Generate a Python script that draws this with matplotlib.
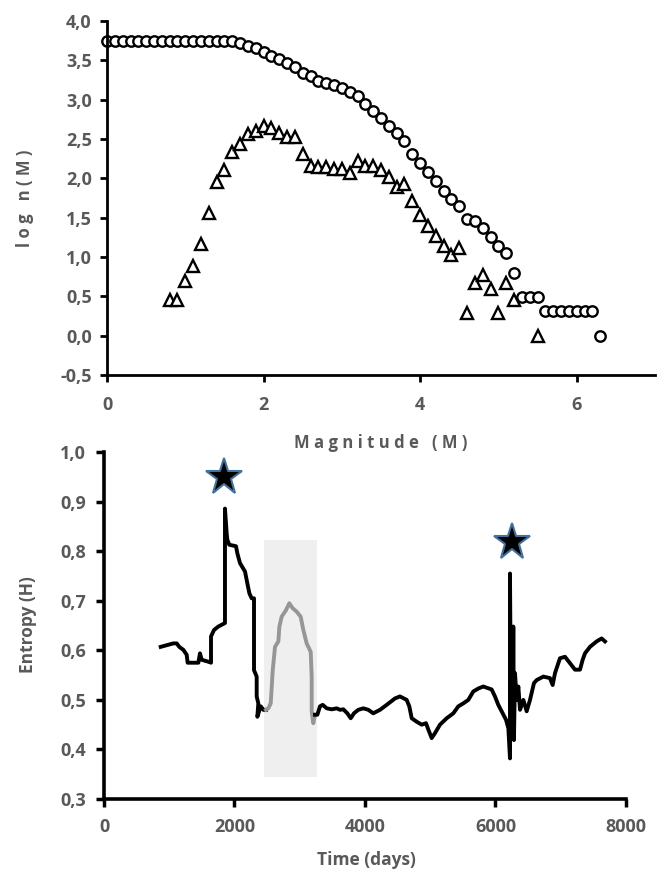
import matplotlib
matplotlib.use("Agg")
import matplotlib.pyplot as plt

plt.rcParams["font.family"] = ["Open Sans", "DejaVu Sans"]
plt.rcParams["font.weight"] = "bold"

GREY_TXT = "#595959"

# ---- top panel: log n(M) vs magnitude ----
mag_circ = [0.0, 0.1, 0.2, 0.3, 0.4, 0.5, 0.6, 0.7, 0.8, 0.9, 1.0, 1.1, 1.2, 1.3, 1.4, 1.5, 1.6,
            1.7, 1.8, 1.9, 2.0, 2.1, 2.2, 2.3, 2.4, 2.5, 2.6, 2.7, 2.8, 2.9, 3.0, 3.1, 3.2,
            3.3, 3.4, 3.5, 3.6, 3.7, 3.8, 3.9, 4.0, 4.1, 4.2, 4.3, 4.4, 4.5, 4.6, 4.7, 4.8,
            4.9, 5.0, 5.1, 5.2, 5.3, 5.4, 5.5, 5.6, 5.7, 5.8, 5.9, 6.0, 6.1, 6.2, 6.3]
logn_cum = [3.75, 3.75, 3.75, 3.75, 3.75, 3.75, 3.75, 3.75, 3.75, 3.75, 3.75, 3.75, 3.75, 3.75,
            3.75, 3.75, 3.75, 3.72, 3.68, 3.65, 3.61, 3.55, 3.51, 3.47, 3.41, 3.34, 3.30, 3.24,
            3.21, 3.18, 3.15, 3.10, 3.04, 2.94, 2.86, 2.77, 2.66, 2.58, 2.48, 2.31, 2.20, 2.08,
            1.96, 1.84, 1.74, 1.65, 1.48, 1.46, 1.37, 1.26, 1.14, 1.05, 0.80, 0.49, 0.49, 0.49,
            0.31, 0.31, 0.31, 0.31, 0.31, 0.31, 0.31, 0.0]

mag_tri = [0.8, 0.9, 1.0, 1.1, 1.2, 1.3, 1.4, 1.5, 1.6, 1.7, 1.8, 1.9, 2.0, 2.1, 2.2, 2.3,
           2.4, 2.5, 2.6, 2.7, 2.8, 2.9, 3.0, 3.1, 3.2, 3.3, 3.4, 3.5, 3.6, 3.7, 3.8, 3.9,
           4.0, 4.1, 4.2, 4.3, 4.4, 4.5, 4.6, 4.7, 4.8, 4.9, 5.0, 5.1, 5.2, 5.5]
logn_inc = [0.45, 0.45, 0.69, 0.88, 1.17, 1.56, 1.95, 2.11, 2.34, 2.44, 2.56, 2.60, 2.67,
            2.64, 2.57, 2.52, 2.52, 2.31, 2.16, 2.14, 2.14, 2.12, 2.12, 2.07, 2.22, 2.15,
            2.15, 2.11, 2.02, 1.89, 1.93, 1.71, 1.53, 1.39, 1.27, 1.14, 1.03, 1.11, 0.29,
            0.67, 0.77, 0.59, 0.29, 0.67, 0.45, 0.0]

top_yticks = [-0.5, 0.0, 0.5, 1.0, 1.5, 2.0, 2.5, 3.0, 3.5, 4.0]
top_ylabels = ["-0,5", "0,0", "0,5", "1,0", "1,5", "2,0", "2,5", "3,0", "3,5", "4,0"]
top_xticks = [0, 2, 4, 6]

# ---- bottom panel: entropy vs time ----
t_black1 = [869, 1062, 1114, 1154, 1216, 1267, 1282, 1446, 1471, 1497, 1599, 1640, 1640,
            1686, 1752, 1854, 1854, 1880, 1890, 1920, 2023, 2043, 2084, 2161, 2197, 2228,
            2263, 2299, 2299, 2340, 2340, 2365, 2350, 2402, 2442, 2483]
h_black1 = [0.607, 0.614, 0.614, 0.607, 0.601, 0.591, 0.575, 0.575, 0.594, 0.581, 0.577,
            0.575, 0.628, 0.641, 0.648, 0.655, 0.886, 0.836, 0.823, 0.813, 0.810, 0.796,
            0.776, 0.759, 0.735, 0.715, 0.705, 0.705, 0.560, 0.547, 0.507, 0.493, 0.466,
            0.487, 0.480, 0.480]

t_grey = [2483, 2518, 2555, 2586, 2621, 2672, 2688, 2723, 2789, 2840, 2891, 2953, 3014,
          3055, 3106, 3168, 3183, 3183, 3208, 3234]
h_grey = [0.480, 0.483, 0.493, 0.560, 0.607, 0.618, 0.648, 0.668, 0.681, 0.695, 0.685,
          0.678, 0.668, 0.641, 0.614, 0.597, 0.547, 0.476, 0.453, 0.470]

t_black2 = [3234, 3270, 3310, 3352, 3413, 3490, 3566, 3617, 3668, 3729, 3781, 3831, 3897,
            3974, 4051, 4127, 4230, 4332, 4460, 4536, 4639, 4679, 4716, 4792, 4869, 4935,
            4971, 5022, 5073, 5149, 5252, 5354, 5430, 5507, 5583, 5660, 5737, 5813, 5941,
            5992, 6043, 6110, 6161, 6197, 6222, 6222, 6240, 6250, 6262, 6273, 6283, 6299,
            6325, 6350, 6376, 6427, 6478, 6529, 6590, 6631, 6733, 6835, 6876, 6912, 6988,
            7065, 7142, 7218, 7295, 7336, 7372, 7448, 7550, 7627, 7678]
h_black2 = [0.470, 0.470, 0.487, 0.490, 0.483, 0.481, 0.483, 0.480, 0.481, 0.473, 0.463,
            0.473, 0.480, 0.483, 0.480, 0.473, 0.480, 0.490, 0.503, 0.507, 0.500, 0.487,
            0.463, 0.456, 0.450, 0.453, 0.440, 0.423, 0.433, 0.450, 0.463, 0.473, 0.487,
            0.493, 0.500, 0.517, 0.523, 0.527, 0.521, 0.507, 0.490, 0.473, 0.460, 0.443,
            0.382, 0.755, 0.420, 0.640, 0.430, 0.648, 0.419, 0.554, 0.500, 0.527, 0.480,
            0.500, 0.477, 0.500, 0.534, 0.540, 0.547, 0.544, 0.530, 0.554, 0.584, 0.587,
            0.574, 0.561, 0.561, 0.581, 0.594, 0.607, 0.618, 0.624, 0.618]

star_t = [1844, 6258]
star_h = [0.950, 0.819]

shade_t = [2457, 3260]
shade_h = [0.345, 0.823]

bot_yticks = [0.3, 0.4, 0.5, 0.6, 0.7, 0.8, 0.9, 1.0]
bot_ylabels = ["0,3", "0,4", "0,5", "0,6", "0,7", "0,8", "0,9", "1,0"]
bot_xticks = [0, 2000, 4000, 6000, 8000]

fig = plt.figure(figsize=(6.57, 8.8), dpi=100)

ax1 = fig.add_axes([0.1629, 0.5739, 0.834, 0.4023])
ax1.plot(mag_circ, logn_cum, linestyle="none", marker="o", markersize=7.5,
         markerfacecolor="white", markeredgecolor="black", markeredgewidth=1.7, clip_on=False)
ax1.plot(mag_tri, logn_inc, linestyle="none", marker="^", markersize=8.5,
         markerfacecolor="white", markeredgecolor="black", markeredgewidth=1.7, clip_on=False)
ax1.set_xlim(0, 7)
ax1.set_ylim(-0.5, 4.0)
ax1.set_yticks(top_yticks)
ax1.set_yticklabels(top_ylabels)
ax1.set_xticks(top_xticks)
ax1.tick_params(axis="y", length=5, width=2, pad=6, labelsize=13, labelcolor=GREY_TXT)
ax1.tick_params(axis="x", length=5, width=2, pad=10, labelsize=13, labelcolor=GREY_TXT)

ax2 = fig.add_axes([0.1583, 0.0920, 0.7945, 0.3943])
ax2.fill_between(shade_t, shade_h[0], shade_h[1], color="#efefef", linewidth=0, zorder=1)
ax2.plot(t_black1, h_black1, color="black", linewidth=2.8, zorder=3)
ax2.plot(t_grey, h_grey, color="#969696", linewidth=2.8, zorder=3)
ax2.plot(t_black2, h_black2, color="black", linewidth=2.8, zorder=3)
ax2.plot(star_t, star_h, linestyle="none", marker="*", markersize=28,
         markerfacecolor="black", markeredgecolor="#41719c", markeredgewidth=1.5, zorder=4)
ax2.set_xlim(0, 8000)
ax2.set_ylim(0.3, 1.0)
ax2.set_yticks(bot_yticks)
ax2.set_yticklabels(bot_ylabels)
ax2.set_xticks(bot_xticks)
ax2.tick_params(axis="y", length=6, width=2.5, pad=7, labelsize=13, labelcolor=GREY_TXT)
ax2.tick_params(axis="x", length=6, width=2.5, pad=8, labelsize=13, labelcolor=GREY_TXT)

for ax, lw in ((ax1, 2.0), (ax2, 2.6)):
    for side in ("top", "right"):
        ax.spines[side].set_visible(False)
    for side in ("left", "bottom"):
        ax.spines[side].set_linewidth(lw)
        ax.spines[side].set_color("black")

fig.text(0.038, 0.775, "l o g   n ( M )", rotation=90, ha="center", va="center",
         fontsize=12, fontweight="bold", color=GREY_TXT)
fig.text(0.580, 0.4966, "M a g n i t u d e   ( M )", ha="center", va="center",
         fontsize=12, fontweight="bold", color=GREY_TXT)
fig.text(0.0426, 0.2898, "Entropy (H)", rotation=90, ha="center", va="center",
         fontsize=12.5, fontweight="bold", color=GREY_TXT)
fig.text(0.557, 0.0227, "Time (days)", ha="center", va="center",
         fontsize=12.5, fontweight="bold", color=GREY_TXT)

fig.savefig("out.png", dpi=100)
